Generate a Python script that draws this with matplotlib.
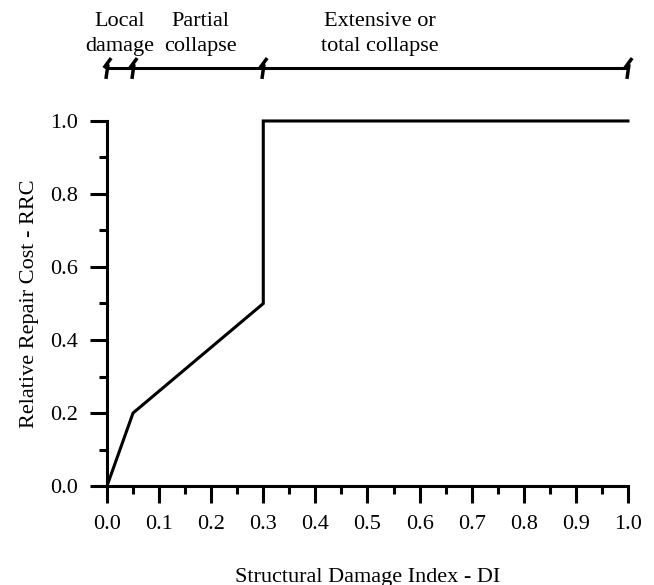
import numpy as np
import matplotlib
matplotlib.use("Agg")
import matplotlib.pyplot as plt
from matplotlib.path import Path
from matplotlib import transforms

plt.rcParams["font.family"] = ["Liberation Serif", "DejaVu Serif"]
plt.rcParams["font.size"] = 16

# repair cost curve
di = [0.0, 0.05, 0.3, 0.3, 1.0]
rrc = [0.0, 0.2, 0.5, 1.0, 1.0]

# damage state bar on top
state_bounds = [0.0, 0.05, 0.3, 1.0]
state_labels = ["Local\ndamage", "Partial\ncollapse", "Extensive or\ntotal collapse"]
state_label_x = [0.024, 0.179, 0.524]

fig = plt.figure(figsize=(6.54, 5.85), dpi=100)
ax = fig.add_axes([0.1636, 0.1692, 0.7966, 0.624])

ax.plot(di, rrc, color="black", lw=2.2, clip_on=False, solid_joinstyle="miter")
ax.set_xlim(0, 1)
ax.set_ylim(0, 1)
ax.set_xticks(np.arange(0, 1.01, 0.1))
ax.set_xticks(np.arange(0.05, 1.0, 0.1), minor=True)
ax.set_yticks(np.arange(0, 1.01, 0.2))
ax.set_yticks(np.arange(0.1, 1.0, 0.2), minor=True)
ax.xaxis.set_major_formatter(plt.FormatStrFormatter("%.1f"))
ax.yaxis.set_major_formatter(plt.FormatStrFormatter("%.1f"))
ax.tick_params(which="major", length=12, width=2.2, direction="out", pad=9)
ax.tick_params(which="minor", length=6, width=2.2, direction="out")
for s in ["top", "right"]:
    ax.spines[s].set_visible(False)
for s in ["left", "bottom"]:
    ax.spines[s].set_linewidth(2.2)
ax.set_xlabel("Structural Damage Index - DI", labelpad=24)
ax.set_ylabel("Relative Repair Cost - RRC", labelpad=8)

# top bar
trans = transforms.blended_transform_factory(ax.transData, fig.transFigure)
bar_y = 1 - 68 / 585
ax.plot([state_bounds[0], state_bounds[-1]], [bar_y, bar_y], color="black",
        lw=2.2, transform=trans, clip_on=False)
slash = Path([(-0.15, -1), (0.05, 0.4), (-0.35, 0.05), (0.35, 1.0)],
             [Path.MOVETO, Path.LINETO, Path.MOVETO, Path.LINETO])
ax.plot(state_bounds, [bar_y] * len(state_bounds), linestyle="none",
        marker=slash, markersize=15, mew=2.5, color="black",
        transform=trans, clip_on=False)
for x, lab in zip(state_label_x, state_labels):
    ax.text(x, 1 - 34 / 585, lab, transform=trans, ha="center", va="center",
            linespacing=1.4)

fig.savefig("out.png", dpi=100)
